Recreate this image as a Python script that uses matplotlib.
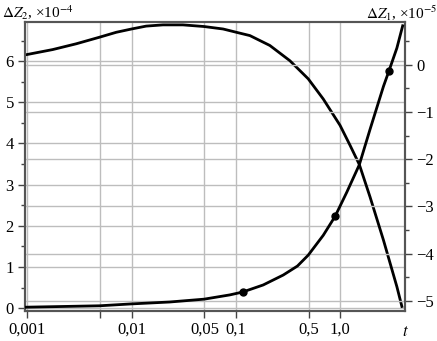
import numpy as np
import matplotlib
matplotlib.use('Agg')
import matplotlib.pyplot as plt
from matplotlib.ticker import FixedLocator, FixedFormatter, MultipleLocator, NullLocator

plt.rcParams['font.family'] = ['Liberation Serif', 'DejaVu Serif']
plt.rcParams['mathtext.fontset'] = 'stix'

# curve on the left axis (dZ2, x1e-4)
t_a = [0.00095, 0.00175, 0.00294, 0.00492, 0.00713, 0.01, 0.0138, 0.020, 0.0311,
       0.0496, 0.0755, 0.109, 0.1365, 0.212, 0.330, 0.495, 0.690, 1.0, 1.25,
       1.53, 1.94, 2.61, 3.51, 3.92]
z2 = [6.15, 6.28, 6.42, 6.58, 6.70, 6.78, 6.85, 6.88, 6.88,
      6.84, 6.78, 6.68, 6.62, 6.38, 6.01, 5.57, 5.08, 4.44, 3.95,
      3.49, 2.70, 1.65, 0.52, 0.04]

# curve on the right axis (dZ1, x1e-5)
t_b = [0.00095, 0.00492, 0.01, 0.0232, 0.0496, 0.0875, 0.116, 0.183, 0.285,
       0.39, 0.495, 0.690, 0.896, 1.16, 1.53, 1.94, 2.61, 2.94, 3.51, 3.99]
z1 = [-5.13, -5.10, -5.06, -5.02, -4.96, -4.87, -4.81, -4.66, -4.45,
      -4.26, -4.03, -3.61, -3.21, -2.70, -2.12, -1.37, -0.46, -0.14, 0.35, 0.82]

# marked points on the right-axis curve
t_dots = [0.116, 0.896, 2.94]
z1_dots = [-4.81, -3.21, -0.14]

xticks = [0.001, 0.005, 0.01, 0.05, 0.1, 0.5, 1.0]
xlabels = ['0,001', '', '0,01', '0,05', '0,1', '0,5', '1,0']
right_ticks = [-5, -4, -3, -2, -1, 0]

fig = plt.figure(figsize=(4.37, 3.41), dpi=100)
ax = fig.add_axes([0.0572, 0.088, 0.8696, 0.8475])
ax2 = ax.twinx()

ax.set_xscale('log')
ax.set_xlim(0.00095, 4.2)
ax.set_ylim(-0.07, 6.95)
ax2.set_ylim(-5.21, 0.9)

grid_c = '#bdbdbd'
for x in xticks:
    ax.axvline(x, color=grid_c, lw=1.0, zorder=0)
for y in range(0, 7):
    ax.axhline(y, color=grid_c, lw=1.0, zorder=0)
for y in right_ticks:
    ax2.axhline(y, color=grid_c, lw=1.0, zorder=0)

ax.plot(t_a, z2, color='black', lw=2.0, zorder=3, solid_joinstyle='round')
ax2.plot(t_b, z1, color='black', lw=2.0, zorder=3, solid_joinstyle='round')
ax2.plot(t_dots, z1_dots, 'o', color='black', ms=5, zorder=4)

ax.xaxis.set_major_locator(FixedLocator(xticks))
ax.xaxis.set_major_formatter(FixedFormatter(xlabels))
ax.xaxis.set_minor_locator(NullLocator())
ax.yaxis.set_major_locator(MultipleLocator(1))
ax.yaxis.set_minor_locator(MultipleLocator(0.5))
ax2.yaxis.set_minor_locator(MultipleLocator(0.5))
ax2.set_yticks(right_ticks)
ax2.set_yticklabels([('\u2212%d' % -v) if v < 0 else '0' for v in right_ticks])

for a in (ax, ax2):
    a.tick_params(which='major', direction='out', length=5, width=1, color='#444444',
                  labelsize=12, pad=3)
    a.tick_params(which='minor', direction='out', length=3, width=1, color='#444444')
    for s in a.spines.values():
        s.set_color('#555555')
        s.set_linewidth(1.5)

ax.text(1.0, -0.045, '$t$', transform=ax.transAxes, ha='center', va='top', fontsize=12)
fig.text(0.005, 0.99, '$\\Delta Z_2$, \u00d710$^{-4}$', ha='left', va='top', fontsize=11)
fig.text(1.0, 0.99, '$\\Delta Z_1$, \u00d710$^{-5}$', ha='right', va='top', fontsize=11)

fig.savefig('out.png', dpi=100)
